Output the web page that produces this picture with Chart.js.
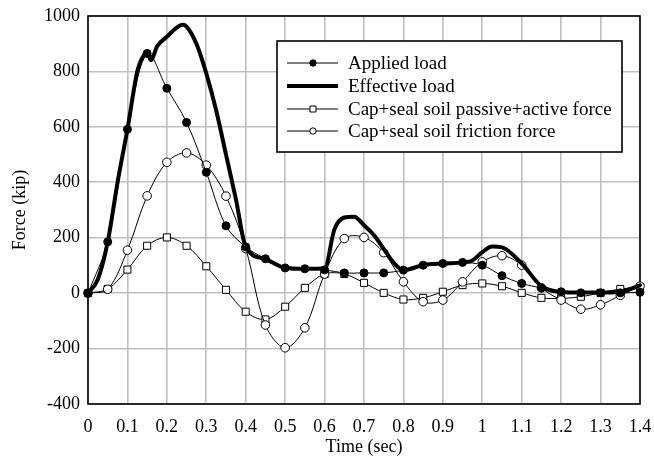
<!DOCTYPE html>
<html>
<head>
<meta charset="utf-8">
<script src="https://cdn.jsdelivr.net/npm/chart.js@4/dist/chart.umd.min.js"></script>
<style>
  html, body { margin: 0; padding: 0; background: #fff; }
  #wrap { width: 654px; height: 461px; }
</style>
</head>
<body>
<div id="wrap"><canvas id="c" width="654" height="461"></canvas></div>
<script>
// ---- data ----
const seriesNames = [
  'Applied load',
  'Effective load',
  'Cap+seal soil passive+active force',
  'Cap+seal soil friction force'
];
const markerTimes = [0, 0.05, 0.1, 0.15, 0.2, 0.25, 0.3, 0.35, 0.4, 0.45, 0.5, 0.55, 0.6, 0.65, 0.7,
  0.75, 0.8, 0.85, 0.9, 0.95, 1.0, 1.05, 1.1, 1.15, 1.2, 1.25, 1.3, 1.35, 1.4];
const appliedLoad = [0, 185, 591, 865, 739, 616, 436, 243, 167, 124, 91, 88, 84, 73, 73,
  73, 83, 101, 107, 111, 101, 63, 35, 19, 5, 1, 1, 1, 3];
const passiveActive = [0, 15, 85, 171, 201, 171, 97, 12, -67, -95, -49, 19, 69, 69, 37,
  1, -23, -17, 5, 29, 35, 25, 1, -17, -19, -13, 1, 15, 22];
const friction = [0, 14, 155, 351, 472, 506, 462, 350, 161, -115, -197, -125, 69, 197, 201,
  146, 41, -31, -25, 41, 113, 135, 101, 19, -25, -58, -42, -8, 25];
const effectiveTimes = [0, 0.025, 0.05, 0.075, 0.1, 0.125, 0.14, 0.15, 0.16, 0.175, 0.2, 0.225, 0.24, 0.25,
  0.275, 0.3, 0.325, 0.35, 0.375, 0.4, 0.45, 0.5, 0.55, 0.6, 0.625, 0.65, 0.675, 0.7, 0.725, 0.75, 0.775,
  0.8, 0.85, 0.9, 0.95, 0.975, 1.0, 1.025, 1.05, 1.1, 1.15, 1.2, 1.25, 1.3, 1.35, 1.4];
const effectiveLoad = [0, 50, 185, 400, 591, 800, 855, 865, 840, 890, 925, 958, 968, 962,
  900, 793, 660, 500, 340, 167, 123, 91, 88, 89, 230, 273, 276, 245, 210, 160, 110,
  83, 101, 107, 111, 118, 148, 168, 165, 107, 25, 4, 2, 2, 5, 28];
const xTickLabels = ['0', '0.1', '0.2', '0.3', '0.4', '0.5', '0.6', '0.7', '0.8', '0.9', '1', '1.1', '1.2', '1.3', '1.4'];
const yTickValues = [-400, -200, 0, 200, 400, 600, 800, 1000];

const FONT = '"Liberation Serif", "Times New Roman", serif';

function pts(xs, ys) { return xs.map((x, i) => ({ x: x, y: ys[i] })); }

const frameAndLegend = {
  id: 'frameAndLegend',
  beforeDatasetsDraw(chart) {
    const { ctx, chartArea: a } = chart;
    ctx.save();
    ctx.strokeStyle = '#000';
    ctx.lineWidth = 1.6;
    ctx.strokeRect(a.left, a.top, a.right - a.left, a.bottom - a.top);
    ctx.restore();
  },
  afterDatasetsDraw(chart) {
    const ctx = chart.ctx;
    const box = { x: 277, y: 41, w: 345, h: 111 };
    ctx.save();
    ctx.fillStyle = '#fff';
    ctx.fillRect(box.x, box.y, box.w, box.h);
    ctx.strokeStyle = '#000';
    ctx.lineWidth = 1.6;
    ctx.strokeRect(box.x, box.y, box.w, box.h);
    const rows = [63, 86, 109, 131];
    chart.data.datasets.forEach((ds, i) => {
      const y = rows[i];
      ctx.beginPath();
      ctx.strokeStyle = '#000';
      ctx.lineWidth = ds.borderWidth;
      ctx.moveTo(287, y);
      ctx.lineTo(338, y);
      ctx.stroke();
      if (ds.pointRadius > 0) {
        ctx.fillStyle = ds.pointBackgroundColor;
        ctx.strokeStyle = '#000';
        ctx.lineWidth = 1;
        ctx.beginPath();
        if (ds.pointStyle === 'rect') {
          ctx.rect(313 - 3, y - 3, 6, 6);
        } else {
          ctx.arc(313, y, 3.2, 0, Math.PI * 2);
        }
        ctx.fill();
        ctx.stroke();
      }
      ctx.fillStyle = '#000';
      ctx.font = '19px ' + FONT;
      ctx.textBaseline = 'middle';
      ctx.textAlign = 'left';
      ctx.fillText(seriesNames[i], 348, y + 1);
    });
    ctx.restore();
  }
};

new Chart(document.getElementById('c'), {
  type: 'line',
  data: {
    datasets: [
      {
        label: seriesNames[0],
        data: pts(markerTimes, appliedLoad),
        borderColor: '#000', borderWidth: 1,
        pointStyle: 'circle', pointRadius: 4,
        pointBackgroundColor: '#000', pointBorderColor: '#000', pointBorderWidth: 1,
        tension: 0.35, clip: 10, order: 1
      },
      {
        label: seriesNames[1],
        data: pts(effectiveTimes, effectiveLoad),
        borderColor: '#000', borderWidth: 4,
        pointRadius: 0, pointStyle: 'line', pointBackgroundColor: '#000',
        cubicInterpolationMode: 'monotone', clip: 10, order: 0,
        borderJoinStyle: 'round', borderCapStyle: 'round'
      },
      {
        label: seriesNames[2],
        data: pts(markerTimes, passiveActive),
        borderColor: '#000', borderWidth: 1,
        pointStyle: 'rect', pointRadius: 5,
        pointBackgroundColor: '#fff', pointBorderColor: '#000', pointBorderWidth: 1,
        tension: 0.35, clip: 10, order: 3
      },
      {
        label: seriesNames[3],
        data: pts(markerTimes, friction),
        borderColor: '#000', borderWidth: 1,
        pointStyle: 'circle', pointRadius: 4.3,
        pointBackgroundColor: '#fff', pointBorderColor: '#000', pointBorderWidth: 1,
        tension: 0.35, clip: 10, order: 2
      }
    ]
  },
  options: {
    responsive: false,
    animation: false,
    events: [],
    layout: { padding: { left: 0, right: 14, top: 16, bottom: 0 } },
    plugins: {
      legend: { display: false },
      tooltip: { enabled: false }
    },
    scales: {
      x: {
        type: 'linear',
        min: 0, max: 1.4,
        afterBuildTicks(scale) {
          scale.ticks = xTickLabels.map((l, i) => ({ value: i / 10 }));
        },
        ticks: {
          color: '#000',
          font: { family: FONT, size: 18 },
          padding: 12,
          maxRotation: 0,
          autoSkip: false,
          callback: (v, i) => xTickLabels[i]
        },
        grid: { color: '#c0c0c0', lineWidth: 1.6, drawTicks: false },
        border: { display: false },
        title: {
          display: true, text: 'Time (sec)', color: '#000',
          font: { family: FONT, size: 18 },
          padding: { top: 0, bottom: 3 }
        },
        afterFit(scale) {
          scale.height = 57;
          scale.paddingLeft = 0; scale.paddingRight = 0;
        }
      },
      y: {
        type: 'linear',
        min: -400, max: 1000,
        afterBuildTicks(scale) {
          scale.ticks = yTickValues.map(v => ({ value: v }));
        },
        ticks: {
          color: '#000',
          font: { family: FONT, size: 18 },
          padding: 8,
          callback: v => String(v)
        },
        grid: { color: '#c0c0c0', lineWidth: 1.6, drawTicks: false },
        border: { display: false },
        title: {
          display: true, text: 'Force (kip)', color: '#000',
          font: { family: FONT, size: 18 },
          padding: { top: 9, bottom: 0 }
        },
        afterFit(scale) {
          scale.width = 88;
          scale.paddingTop = 0; scale.paddingBottom = 0;
        }
      }
    }
  },
  plugins: [frameAndLegend]
});
</script>
</body>
</html>
